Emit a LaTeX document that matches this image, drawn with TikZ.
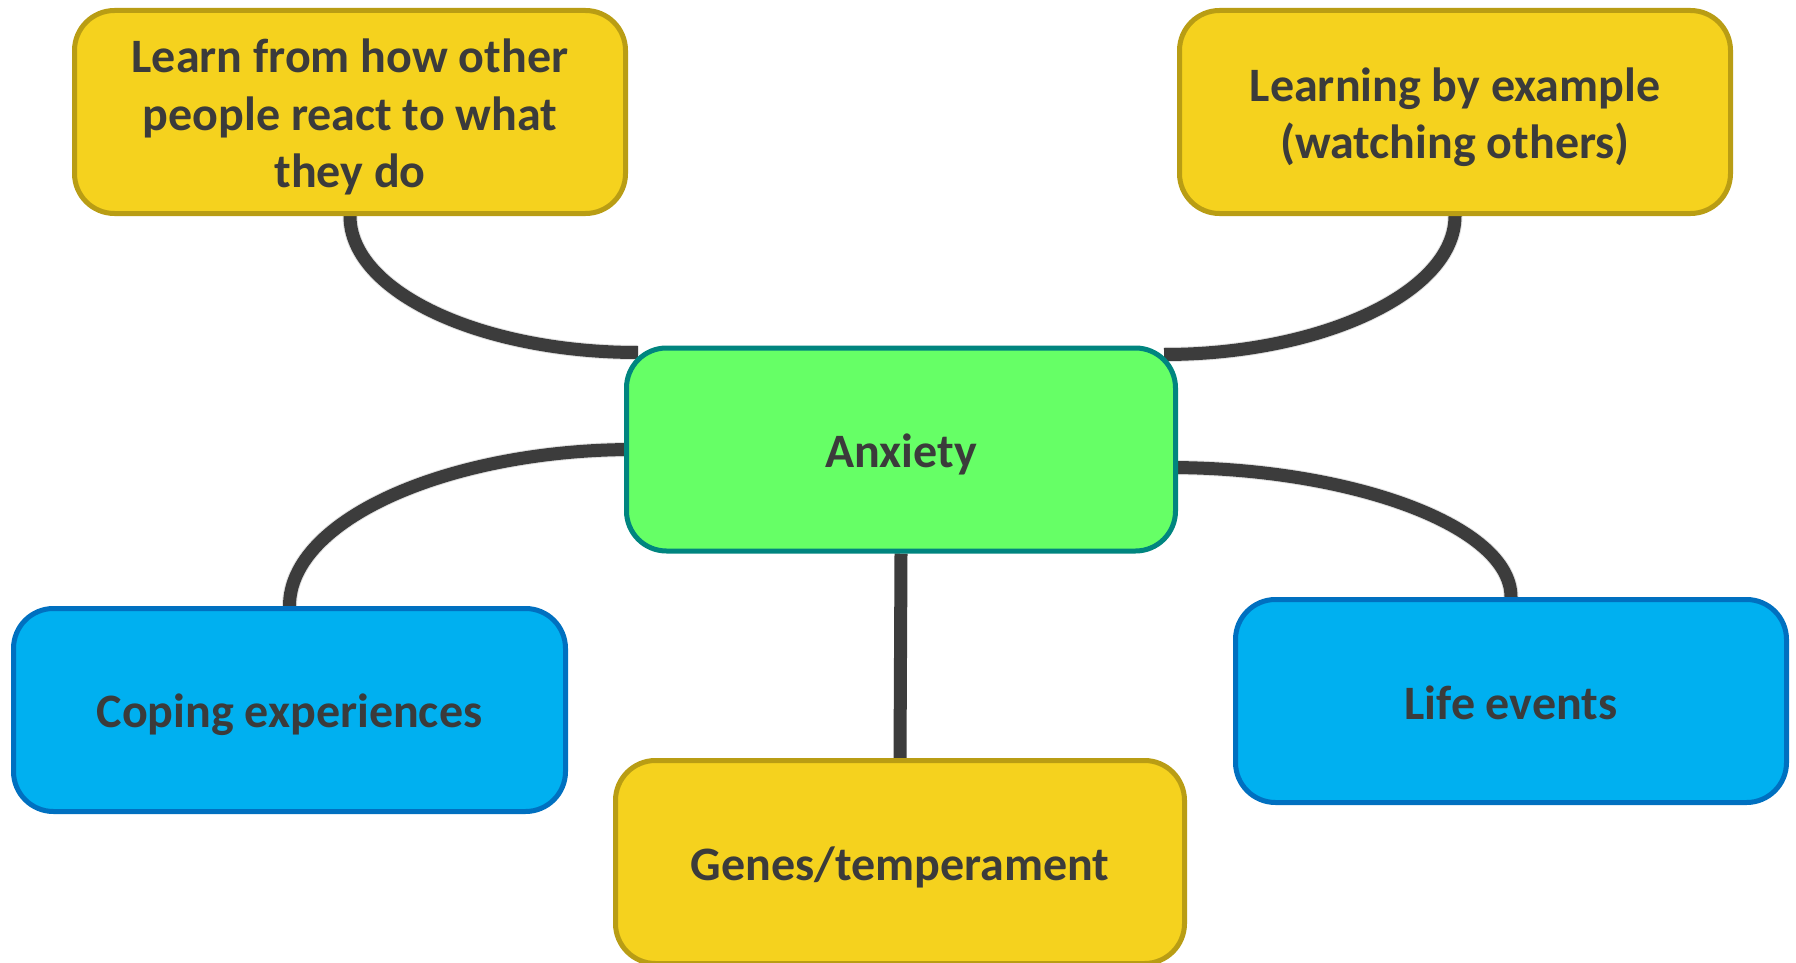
\documentclass[tikz,border=0pt]{standalone}
\usepackage{fontspec}
\setmainfont{Carlito}
\usetikzlibrary{calc}
\pgfdeclarelayer{bg}
\pgfsetlayers{bg,main}
\definecolor{txt}{HTML}{3B3B3B}
\definecolor{yfill}{HTML}{F5D21E}
\definecolor{ydraw}{HTML}{B99D14}
\definecolor{gfill}{HTML}{66FF66}
\definecolor{gdraw}{HTML}{00857F}
\definecolor{bfill}{HTML}{00B0F0}
\definecolor{bdraw}{HTML}{0070C0}
\definecolor{conn}{HTML}{3C3C3C}
\tikzset{
  box/.style={rounded corners=40pt, line width=5pt, minimum width=551pt, minimum height=203pt, inner sep=0pt},
  ybox/.style={box, fill=yfill, draw=ydraw},
  gbox/.style={box, fill=gfill, draw=gdraw},
  bbox/.style={box, fill=bfill, draw=bdraw},
  label text/.style={align=center, text=txt, font=\bfseries\fontsize{48}{57.5}\selectfont, inner sep=0pt},
  link/.style={draw=conn, line width=13pt},
  linkshadow/.style={draw=black, opacity=0.12, line width=15pt, shift={(3pt,-4pt)}},
}
\begin{document}
\begin{tikzpicture}[x=1pt,y=-1pt]
\clip (0,0) rectangle (1796,963);
% boxes
\node[ybox] (tl) at (350,112) {};
\node[ybox] (tr) at (1455,112) {};
\node[gbox, minimum width=549pt] (anx) at (901,449.5) {};
\node[bbox, minimum width=552pt] (cope) at (289.5,710) {};
\node[bbox] (life) at (1511,701) {};
\node[ybox, minimum width=569pt] (genes) at (900,862) {};
% texts
\node[label text] (tlt) at ($(tl)+(0,5)$) {Learn from how other\\people react to what\\they do};
\node[label text] (trt) at ($(tr)+(0,5)$) {Learning by example\\(watching others)};
\node[label text] (anxt) at ($(anx)+(0,5)$) {Anxiety};
\node[label text] (copet) at ($(cope)+(0,5)$) {Coping experiences};
\node[label text] (lifet) at ($(life)+(0,2)$) {Life events};
\node[label text] (genest) at ($(genes)+(0,5)$) {Genes/temperament};
% connectors (behind boxes)
\begin{pgfonlayer}{bg}
\fill[white] (0,0) rectangle (1796,963);
\coordinate (a1) at ($(anx.north west)+(14,7)$);
\coordinate (a2) at ($(anx.north east)+(-14,9)$);
\coordinate (a3) at ($(anx.west)+(10,0)$);
\coordinate (a4) at ($(anx.east)+(-10,18)$);
\draw[linkshadow] (tl.south) .. controls +(0,76) and +(-157,0) .. (a1);
\draw[linkshadow] (tr.south) .. controls +(0,77) and +(156,0) .. (a2);
\draw[linkshadow] (a3) .. controls +(-184,0) and +(0,-87) .. (cope.north);
\draw[linkshadow] (a4) .. controls +(183,0) and +(0,-71) .. (life.north);
\draw[link] (tl.south) .. controls +(0,76) and +(-157,0) .. (a1);
\draw[link] (tr.south) .. controls +(0,77) and +(156,0) .. (a2);
\draw[link] (a3) .. controls +(-184,0) and +(0,-87) .. (cope.north);
\draw[link] (a4) .. controls +(183,0) and +(0,-71) .. (life.north);
\draw[link] (anx.south) -- (genes.north);
\end{pgfonlayer}
\end{tikzpicture}
\end{document}
